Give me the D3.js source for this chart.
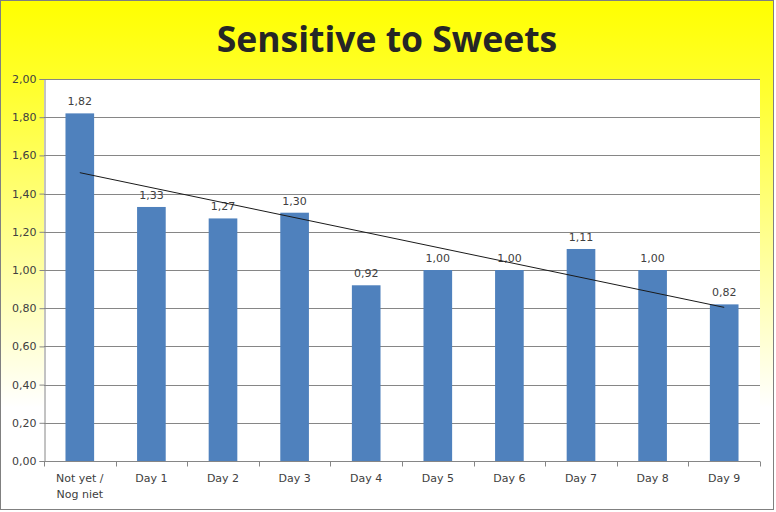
<!DOCTYPE html>
<html>
<head>
<meta charset="utf-8">
<script src="https://cdn.jsdelivr.net/npm/d3@7"></script>
<style>
  html, body { margin: 0; padding: 0; background: #fff; }
  svg text { font-family: "DejaVu Sans", Verdana, sans-serif; }
</style>
</head>
<body>
<div id="chart"></div>
<script>
// Sensitive to Sweets - bar chart with linear trendline
const categories = ['Not yet / Nog niet', 'Day 1', 'Day 2', 'Day 3', 'Day 4', 'Day 5', 'Day 6', 'Day 7', 'Day 8', 'Day 9'];
const values = [1.82, 1.33, 1.27, 1.30, 0.92, 1.00, 1.00, 1.11, 1.00, 0.82];
const yTicks = [0, 0.2, 0.4, 0.6, 0.8, 1.0, 1.2, 1.4, 1.6, 1.8, 2.0];

const width = 776, height = 512;
const margin = { top: 79, right: 16, bottom: 51, left: 44 };

const fmt = v => d3.format('.2f')(v).replace('.', ',');

const svg = d3.select('#chart')
  .append('svg')
  .attr('width', width)
  .attr('height', height);

// background gradient
const grad = svg.append('defs').append('linearGradient')
  .attr('id', 'bg')
  .attr('x1', 0).attr('y1', 0).attr('x2', 0).attr('y2', 1);
grad.append('stop').attr('offset', '0%').attr('stop-color', '#ffff00');
grad.append('stop').attr('offset', '18%').attr('stop-color', '#ffff30');
grad.append('stop').attr('offset', '80%').attr('stop-color', '#ffffff');

svg.append('rect')
  .attr('x', 0.5).attr('y', 0.5)
  .attr('width', width - 3).attr('height', height - 3)
  .attr('fill', 'url(#bg)')
  .attr('stroke', '#808080')
  .attr('stroke-width', 1);

const x = d3.scaleBand()
  .domain(categories)
  .range([margin.left, width - margin.right])
  .paddingInner(0.6)
  .paddingOuter(0.3);
const y = d3.scaleLinear()
  .domain([0, 2])
  .range([height - margin.bottom, margin.top]);

// plot area
svg.append('rect')
  .attr('x', margin.left).attr('y', margin.top)
  .attr('width', width - margin.right - margin.left)
  .attr('height', y(0) - margin.top)
  .attr('fill', '#fff');

// gridlines
svg.append('g')
  .selectAll('line')
  .data(yTicks.slice(1))
  .join('line')
  .attr('x1', margin.left).attr('x2', width - margin.right)
  .attr('y1', d => Math.round(y(d)) + 0.5).attr('y2', d => Math.round(y(d)) + 0.5)
  .attr('stroke', '#868686');

// bars
svg.append('g')
  .selectAll('rect')
  .data(values)
  .join('rect')
  .attr('x', (d, i) => x(categories[i]))
  .attr('y', d => y(d))
  .attr('width', x.bandwidth())
  .attr('height', d => y(0) - y(d))
  .attr('fill', '#4f81bd');

// value labels
svg.append('g')
  .selectAll('text')
  .data(values)
  .join('text')
  .attr('x', (d, i) => x(categories[i]) + x.bandwidth() / 2)
  .attr('y', d => y(d) - 8)
  .attr('text-anchor', 'middle')
  .attr('font-size', 11)
  .attr('fill', '#404040')
  .text(d => fmt(d));

// linear trendline (least squares)
const n = values.length;
const xs = d3.range(1, n + 1);
const mx = d3.mean(xs), my = d3.mean(values);
const slope = d3.sum(xs, (xi, i) => (xi - mx) * (values[i] - my)) / d3.sum(xs, xi => (xi - mx) ** 2);
const icpt = my - slope * mx;
const cx = i => x(categories[i]) + x.bandwidth() / 2;
svg.append('line')
  .attr('x1', cx(0)).attr('y1', y(icpt + slope * 1))
  .attr('x2', cx(n - 1)).attr('y2', y(icpt + slope * n))
  .attr('stroke', '#1a1a1a')
  .attr('stroke-width', 1);

// y axis
const yAxis = svg.append('g')
  .attr('transform', `translate(${margin.left + 0.5},0)`)
  .call(d3.axisLeft(y).tickValues(yTicks).tickSize(5).tickPadding(3).tickFormat(fmt));
yAxis.select('.domain').attr('stroke', '#868686');
yAxis.selectAll('.tick line').attr('stroke', '#868686');
yAxis.selectAll('.tick text')
  .attr('font-size', 11)
  .attr('fill', '#404040');

// x axis
const xAxis = svg.append('g')
  .attr('transform', `translate(0,${Math.round(y(0)) + 0.5})`);
xAxis.append('line')
  .attr('x1', margin.left).attr('x2', width - margin.right)
  .attr('stroke', '#868686');
xAxis.selectAll('line.tk')
  .data(d3.range(n + 1))
  .join('line')
  .attr('class', 'tk')
  .attr('x1', i => Math.round(margin.left + i * (width - margin.right - margin.left) / n) + 0.5)
  .attr('x2', i => Math.round(margin.left + i * (width - margin.right - margin.left) / n) + 0.5)
  .attr('y1', 0).attr('y2', 5)
  .attr('stroke', '#868686');
xAxis.selectAll('text')
  .data(categories)
  .join('text')
  .attr('text-anchor', 'middle')
  .attr('font-size', 11)
  .attr('fill', '#404040')
  .attr('transform', d => `translate(${x(d) + x.bandwidth() / 2},0)`)
  .each(function (d) {
    const parts = d === 'Not yet / Nog niet' ? ['Not yet /', 'Nog niet'] : [d];
    d3.select(this).selectAll('tspan')
      .data(parts)
      .join('tspan')
      .attr('x', 0)
      .attr('y', (p, j) => 20 + j * 16)
      .text(p => p);
  });

// title
svg.append('text')
  .attr('x', 387)
  .attr('y', 52)
  .attr('text-anchor', 'middle')
  .style('font-family', '"Open Sans", sans-serif')
  .attr('font-weight', 'bold')
  .attr('font-size', 35.5)
  .attr('fill', '#262626')
  .text('Sensitive to Sweets');
</script>
</body>
</html>
